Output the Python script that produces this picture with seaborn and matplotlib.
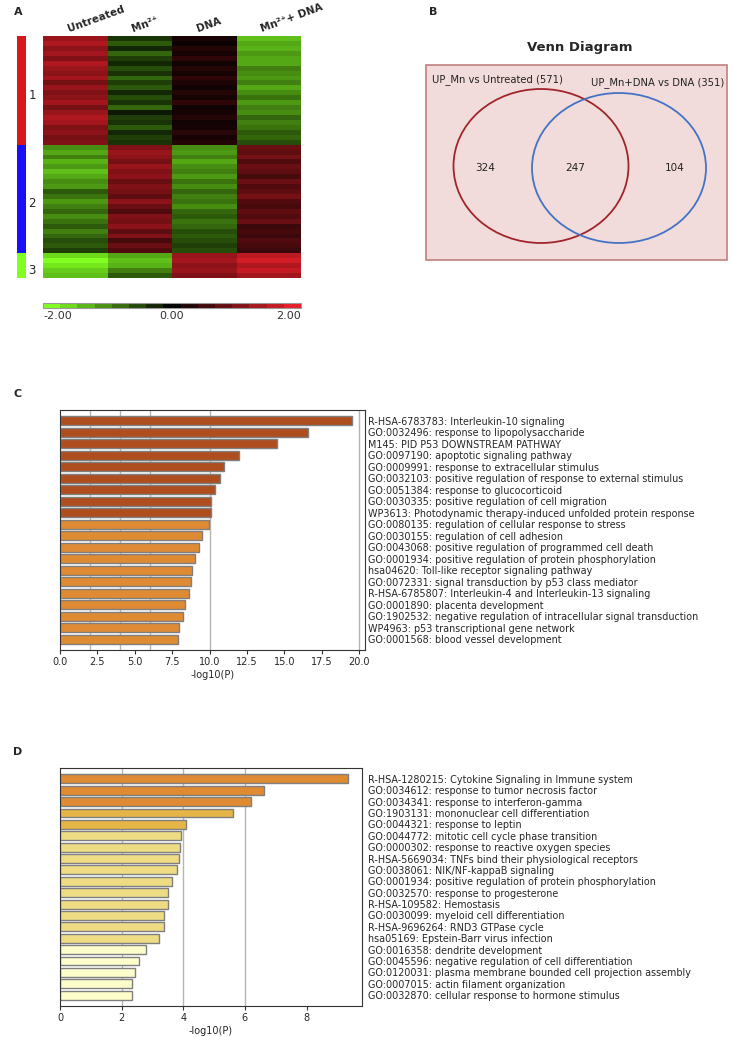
import numpy as np
import pandas as pd
import matplotlib
matplotlib.use("Agg")
import matplotlib.pyplot as plt
import seaborn as sns
from matplotlib.colors import LinearSegmentedColormap, ListedColormap, Normalize
from matplotlib.cm import ScalarMappable
from matplotlib.patches import Ellipse, Rectangle
import matplotlib.transforms as mtransforms

# ---- Panel A: heatmap data (z-scores per condition, 3 clusters) ----
conditions = ["Untreated", "Mn²⁺", "DNA", "Mn²⁺+ DNA"]

c1_untreated = [1.3, 1.5, 1.2, 1.4, 1.1, 1.5, 1.3, 1.2, 1.4, 1.0, 1.3, 1.1, 1.2, 1.4, 1.0, 1.3, 1.5, 1.4, 1.1, 1.2, 1.0, 1.1]
c1_mn = [-0.4, -0.7, -0.3, -0.8, -0.5, -0.3, -0.6, -0.4, -0.8, -0.5, -0.7, -0.3, -0.6, -0.4, -0.8, -0.2, -0.5, -0.4, -0.7, -0.3, -0.5, -0.4]
c1_dna = [0.2, 0.1, 0.3, 0.2, 0.4, 0.15, 0.3, 0.2, 0.4, 0.25, 0.15, 0.3, 0.2, 0.4, 0.15, 0.2, 0.3, 0.15, 0.2, 0.35, 0.2, 0.3]
c1_mn_dna = [-1.5, -1.3, -1.4, -1.2, -1.3, -1.3, -1.0, -1.1, -1.2, -1.0, -1.3, -1.1, -0.9, -1.2, -1.0, -1.1, -0.8, -1.0, -0.9, -0.7, -0.8, -0.6]

c2_untreated = [-1.1, -1.3, -1.0, -1.4, -1.2, -1.5, -1.3, -1.1, -1.2, -0.7, -0.9, -1.2, -1.0, -0.8, -1.1, -0.9, -0.7, -1.0, -0.8, -0.6, -0.7, -0.5]
c2_mn = [1.1, 1.3, 1.2, 1.0, 1.3, 1.1, 1.2, 0.9, 1.1, 1.0, 0.8, 1.2, 0.9, 0.7, 1.1, 1.0, 1.2, 0.8, 1.1, 0.6, 0.9, 0.7]
c2_dna = [-1.1, -1.2, -1.0, -1.3, -1.1, -1.0, -1.2, -0.9, -1.1, -0.8, -1.0, -0.9, -1.1, -0.8, -0.7, -0.9, -0.8, -0.6, -0.7, -0.6, -0.5, -0.6]
c2_mn_dna = [0.9, 0.8, 1.0, 0.7, 0.9, 0.8, 0.6, 0.9, 0.7, 0.8, 1.0, 0.7, 0.6, 0.8, 0.7, 0.9, 0.5, 0.6, 0.5, 0.7, 0.6, 0.5]

c3_untreated = [-1.7, -2.0, -1.8, -1.6, -1.5]
c3_mn = [-1.3, -1.5, -1.4, -1.0, -0.7]
c3_dna = [1.3, 1.4, 1.2, 1.3, 1.1]
c3_mn_dna = [1.6, 1.8, 1.5, 1.7, 1.4]

cluster_names = ["1", "2", "3"]

# ---- Panel B: Venn ----
venn_title = "Venn Diagram"
set_labels = ["UP_Mn vs Untreated (571)", "UP_Mn+DNA vs DNA (351)"]
venn_counts = [324, 247, 104]

# ---- Panel C: enrichment ----
c_terms = [
    "R-HSA-6783783: Interleukin-10 signaling",
    "GO:0032496: response to lipopolysaccharide",
    "M145: PID P53 DOWNSTREAM PATHWAY",
    "GO:0097190: apoptotic signaling pathway",
    "GO:0009991: response to extracellular stimulus",
    "GO:0032103: positive regulation of response to external stimulus",
    "GO:0051384: response to glucocorticoid",
    "GO:0030335: positive regulation of cell migration",
    "WP3613: Photodynamic therapy-induced unfolded protein response",
    "GO:0080135: regulation of cellular response to stress",
    "GO:0030155: regulation of cell adhesion",
    "GO:0043068: positive regulation of programmed cell death",
    "GO:0001934: positive regulation of protein phosphorylation",
    "hsa04620: Toll-like receptor signaling pathway",
    "GO:0072331: signal transduction by p53 class mediator",
    "R-HSA-6785807: Interleukin-4 and Interleukin-13 signaling",
    "GO:0001890: placenta development",
    "GO:1902532: negative regulation of intracellular signal transduction",
    "WP4963: p53 transcriptional gene network",
    "GO:0001568: blood vessel development",
]
c_values = [19.5, 16.6, 14.5, 12.0, 10.95, 10.7, 10.4, 10.07, 10.07, 9.95,
            9.5, 9.3, 9.05, 8.8, 8.75, 8.65, 8.35, 8.2, 7.95, 7.9]
c_bins = [0] * 9 + [1] * 11

# ---- Panel D: enrichment ----
d_terms = [
    "R-HSA-1280215: Cytokine Signaling in Immune system",
    "GO:0034612: response to tumor necrosis factor",
    "GO:0034341: response to interferon-gamma",
    "GO:1903131: mononuclear cell differentiation",
    "GO:0044321: response to leptin",
    "GO:0044772: mitotic cell cycle phase transition",
    "GO:0000302: response to reactive oxygen species",
    "R-HSA-5669034: TNFs bind their physiological receptors",
    "GO:0038061: NIK/NF-kappaB signaling",
    "GO:0001934: positive regulation of protein phosphorylation",
    "GO:0032570: response to progesterone",
    "R-HSA-109582: Hemostasis",
    "GO:0030099: myeloid cell differentiation",
    "R-HSA-9696264: RND3 GTPase cycle",
    "hsa05169: Epstein-Barr virus infection",
    "GO:0016358: dendrite development",
    "GO:0045596: negative regulation of cell differentiation",
    "GO:0120031: plasma membrane bounded cell projection assembly",
    "GO:0007015: actin filament organization",
    "GO:0032870: cellular response to hormone stimulus",
]
d_values = [9.36, 6.61, 6.2, 5.63, 4.1, 3.93, 3.89, 3.86, 3.8, 3.63,
            3.52, 3.5, 3.39, 3.38, 3.2, 2.78, 2.57, 2.44, 2.34, 2.34]
d_bins = [1] * 3 + [2] * 2 + [3] * 10 + [4] * 5

threshold_lines = [2, 4, 6, 10, 20]
bin_colors = ["#ae4e1e", "#df8b33", "#e5b548", "#eedc84", "#fdfdcc"]

W, H = 731, 1037
fig = plt.figure(figsize=(W / 100, H / 100), dpi=100)
sns.set_style("white")
plt.rcParams["font.family"] = ["DejaVu Sans"]


def px_axes(x0, y0, x1, y1):
    return fig.add_axes([x0 / W, 1 - y1 / H, (x1 - x0) / W, (y1 - y0) / H])


# ---------------- Panel A ----------------
clusters = [
    [c1_untreated, c1_mn, c1_dna, c1_mn_dna],
    [c2_untreated, c2_mn, c2_dna, c2_mn_dna],
    [c3_untreated, c3_mn, c3_dna, c3_mn_dna],
]
frames, ids = [], []
for k, cols in enumerate(clusters):
    frames.append(pd.DataFrame(dict(zip(conditions, cols))))
    ids += [k] * len(cols[0])
hm = pd.concat(frames, ignore_index=True)

gkr_colors = ["#80ff20", "#000000", "#e8202a"]
gkr = LinearSegmentedColormap.from_list("gkr", gkr_colors, N=256)
gkr_steps = LinearSegmentedColormap.from_list("gkr15", gkr_colors, N=15)

ax_hm = px_axes(43, 36, 301, 278)
sns.heatmap(hm, ax=ax_hm, cmap=gkr, vmin=-2, vmax=2, xticklabels=False, yticklabels=False,
            cbar=False)

cax = px_axes(43, 303, 301, 308)
cbar = fig.colorbar(ScalarMappable(norm=Normalize(-2, 2), cmap=gkr_steps), cax=cax,
                    orientation="horizontal", ticks=[-2, 0, 2])
cax.tick_params(length=0, labelsize=8, pad=2, colors="#333333")
cax.set_xticklabels(["-2.00", "0.00", "2.00"])
tl = cax.get_xticklabels()
tl[0].set_ha("left")
tl[-1].set_ha("right")
cbar.outline.set_edgecolor("#999999")
cbar.outline.set_linewidth(0.8)

trans = mtransforms.blended_transform_factory(ax_hm.transData, ax_hm.transAxes)
for i, name in enumerate(conditions):
    ax_hm.text(i + 0.4, 1.015, name, transform=trans, rotation=20, rotation_mode="anchor",
               ha="left", va="baseline", fontsize=7.5, fontweight="bold")

ax_side = px_axes(17, 36, 26, 278)
side = pd.DataFrame({"cluster": ids})
sns.heatmap(side, ax=ax_side, cmap=ListedColormap(["#d7191c", "#1a10f5", "#80ff20"]),
            vmin=-0.5, vmax=2.5, cbar=False, xticklabels=False, yticklabels=False)
start = 0
for k, name in enumerate(cluster_names):
    n = ids.count(k)
    ax_side.text(1.7, start + n / 2 + 1, name, ha="center", va="center", fontsize=8.5,
                 clip_on=False)
    start += n

# ---------------- Panel B ----------------
ax_v = px_axes(420, 0, 731, 270)
ax_v.set_xlim(0, 311)
ax_v.set_ylim(270, 0)
ax_v.axis("off")
ax_v.add_patch(Rectangle((6, 65), 301, 195, facecolor="#f2dcdb", edgecolor="#c08080", lw=1.2))
ax_v.text(160, 47, venn_title, ha="center", va="center", fontsize=9.5, fontweight="bold")
ax_v.add_patch(Ellipse((121, 166), 175, 154, fill=False, edgecolor="#a0252a", lw=1.3))
ax_v.add_patch(Ellipse((199, 168), 174, 150, fill=False, edgecolor="#4472c4", lw=1.3))
ax_v.text(12, 80, set_labels[0], ha="left", va="center", fontsize=7.2, color="#222222")
ax_v.text(304, 83, set_labels[1], ha="right", va="center", fontsize=7.2, color="#222222")
for xpos, cnt in zip([65, 155, 255], venn_counts):
    ax_v.text(xpos, 168, str(cnt), ha="center", va="center", fontsize=7.5, color="#222222")


# ---------------- Panels C & D ----------------
def enrichment(ax, terms, values, bins, xmax, ticks, fmt, pad):
    df = pd.DataFrame({"term": terms, "value": values})
    sns.barplot(data=df, x="value", y="term", hue="term", orient="h", legend=False,
                palette=[bin_colors[b] for b in bins], saturation=1, width=0.78,
                edgecolor="#7f7f7f", linewidth=1, ax=ax, zorder=2)
    for v in threshold_lines:
        ax.axvline(v, color="#b5b5b5", lw=1, zorder=0)
    ax.set_xlim(0, xmax)
    ax.set_ylim(len(terms) - 0.05, -0.95)
    ax.set_xticks(ticks)
    ax.set_xticklabels([fmt.format(t) for t in ticks])
    ax.yaxis.tick_right()
    ax.tick_params(axis="y", length=0, pad=pad, labelsize=6.9)
    ax.tick_params(axis="x", length=3, width=0.8, pad=2, labelsize=7, bottom=True,
                   direction="out", color="#333333")
    ax.set_ylabel("")
    ax.set_xlabel("-log10(P)", fontsize=7, labelpad=2)
    for s in ax.spines.values():
        s.set_visible(True)
        s.set_color("#333333")
        s.set_linewidth(0.8)


ax_c = px_axes(60, 410, 365, 650)
enrichment(ax_c, c_terms, c_values, c_bins, 20.4, [0, 2.5, 5, 7.5, 10, 12.5, 15, 17.5, 20], "{:.1f}", 2.2)
ax_d = px_axes(60, 768, 362, 1006)
enrichment(ax_d, d_terms, d_values, d_bins, 9.8, [0, 2, 4, 6, 8], "{:d}", 4)

for letter, (x, y) in zip("ABCD", [(18, 12), (433, 12), (18, 394), (18, 752)]):
    fig.text(x / W, 1 - y / H, letter, ha="center", va="center", fontsize=8, fontweight="bold")

fig.savefig("out.png", dpi=100)
